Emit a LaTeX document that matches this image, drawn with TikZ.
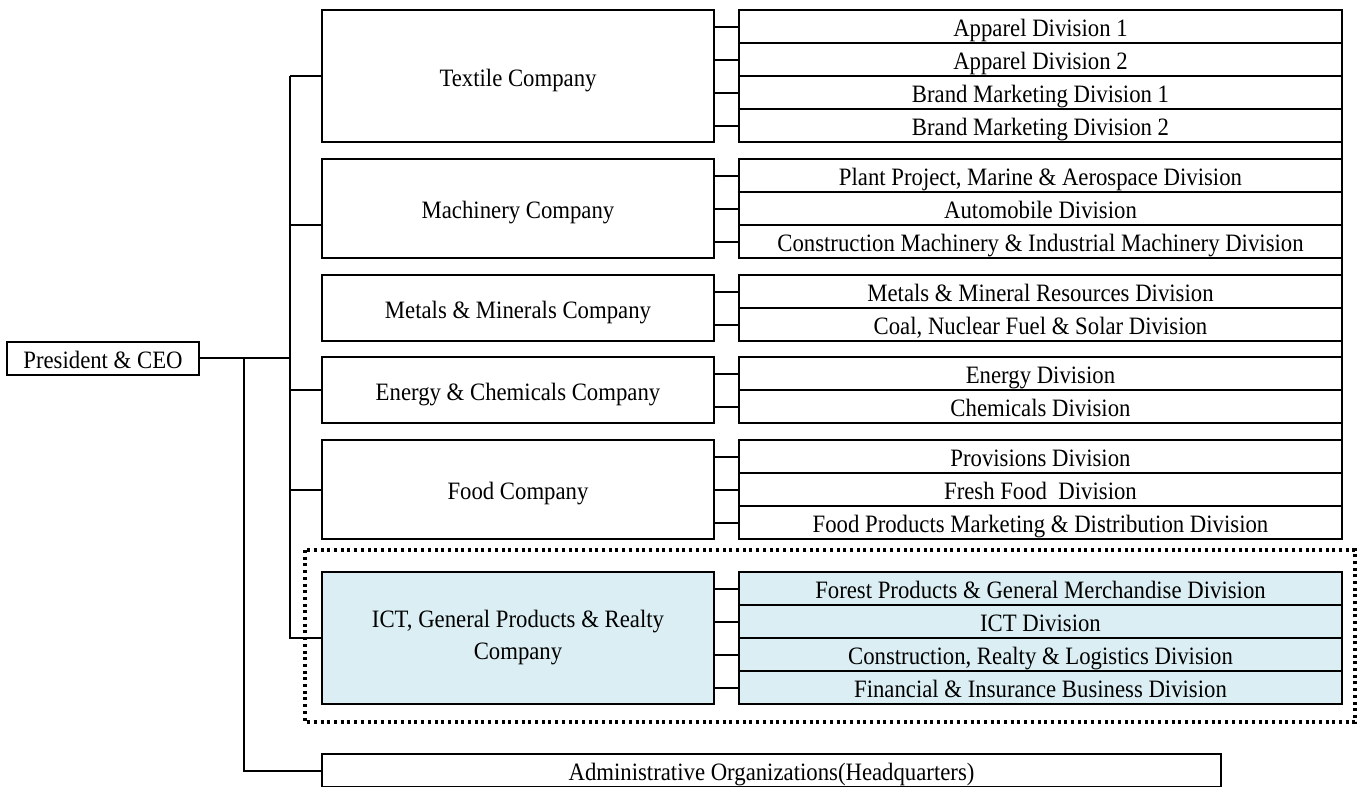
\documentclass[tikz,border=0pt]{standalone}
\usepackage{fontspec}
\setmainfont{Liberation Serif}[FakeStretch=0.91]
\usetikzlibrary{positioning}
\definecolor{ictblue}{HTML}{DAEEF3}
\tikzset{
	unit/.style={draw, line width=2pt, inner sep=0pt, outer sep=0pt, align=center,
		text height=26.5pt, text depth=6.5pt, font=\fontsize{25}{32}\selectfont},
	company/.style={unit, anchor=north west, minimum width=392pt},
	division/.style={unit, minimum width=603pt, minimum height=33pt},
	link/.style={line width=2pt},
	groupframe/.style={line width=3.2pt, dash pattern=on 3pt off 3.7pt},
}

\begin{document}
\begin{tikzpicture}[x=1pt, y=-1pt]
			%%%%% START %%%%%
			\useasboundingbox (0,0) rectangle (1358,787);
			
			\node[unit, minimum width=192pt, minimum height=33pt] (ceo) at (103,358) {President \& CEO};
			
			\node[company, minimum height=132pt] (textile) at (322,10) {Textile Company};
			\node[company, minimum height=99pt] (machinery) at (322,159) {Machinery Company};
			\node[company, minimum height=66pt] (metals) at (322,275) {Metals \& Minerals Company};
			\node[company, minimum height=66pt] (energy) at (322,357) {Energy \& Chemicals Company};
			\node[company, minimum height=99pt] (food) at (322,440) {Food Company};
			\node[company, minimum height=132pt, fill=ictblue, text height={}, text depth={}] (ict) at (322,572) {ICT, General Products \& Realty\\Company};
			
			\node[division, anchor=north west] (t1) at (739,10) {Apparel Division 1};
			\node[division, below=0pt of t1] (t2) {Apparel Division 2};
			\node[division, below=0pt of t2] (t3) {Brand Marketing Division 1};
			\node[division, below=0pt of t3] (t4) {Brand Marketing Division 2};
			
			\node[division, anchor=north west] (m1) at (739,159) {Plant Project, Marine \& Aerospace Division};
			\node[division, below=0pt of m1] (m2) {Automobile Division};
			\node[division, below=0pt of m2] (m3) {Construction Machinery \& Industrial Machinery Division};
			
			\node[division, anchor=north west] (n1) at (739,275) {Metals \& Mineral Resources Division};
			\node[division, below=0pt of n1] (n2) {Coal, Nuclear Fuel \& Solar Division};
			
			\node[division, anchor=north west] (e1) at (739,357) {Energy Division};
			\node[division, below=0pt of e1] (e2) {Chemicals Division};
			
			\node[division, anchor=north west] (f1) at (739,440) {Provisions Division};
			\node[division, below=0pt of f1] (f2) {Fresh Food\ \ Division};
			\node[division, below=0pt of f2] (f3) {Food Products Marketing \& Distribution Division};
			
			\node[division, anchor=north west, fill=ictblue] (i1) at (739,572) {Forest Products \& General Merchandise Division};
			\node[division, below=0pt of i1, fill=ictblue] (i2) {ICT Division};
			\node[division, below=0pt of i2, fill=ictblue] (i3) {Construction, Realty \& Logistics Division};
			\node[division, below=0pt of i3, fill=ictblue] (i4) {Financial \& Insurance Business Division};
			
			\node[unit, anchor=north west, minimum width=899pt, minimum height=32pt] (admin) at (322,754) {Administrative Organizations(Headquarters)};
			
			% dotted group round the ICT company
			\draw[groupframe] (305,550) rectangle (1355,722);
			
			% right edge running down the division column
			\draw[link] (t1.north east) -- (f3.south east);
			
			% bus from the president to the companies
			\draw[link] (textile.west) -- ++(-32,0) coordinate (bus);
			\draw[link] (bus) |- (ict.west);
			\draw[link] (ceo.east) -- (ceo.east -| bus);
			\draw[link] ([yshift=-16pt]machinery.west) -- ++(-32,0);
			\draw[link] (energy.west) -- ++(-32,0);
			\draw[link] (food.west) -- ++(-32,0);
			\draw[link] ([xshift=45pt]ceo.east) |- (admin.west);
			
			% stubs from the companies to their divisions
			\foreach \d in {t1,t2,t3,t4,m1,m2,m3,n1,n2,e1,e2,f1,f2,f3,i1,i2,i3,i4}
				\draw[link] (\d.west) -- ++(-25,0);
			%%%%% END %%%%%
\end{tikzpicture}
\end{document}
